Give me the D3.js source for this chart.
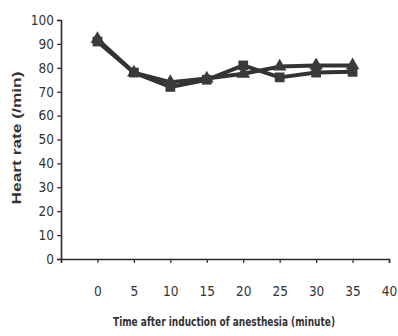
<!DOCTYPE html>
<html>
<head>
<meta charset="utf-8">
<script src="https://cdn.jsdelivr.net/npm/d3@7"></script>
<style>
  body { margin: 0; background: #fff; }
  svg { display: block; }
</style>
</head>
<body>
<svg id="chart" width="398" height="336"></svg>
<script>
// minutes after induction
const times = [0, 5, 10, 15, 20, 25, 30, 35];
// group with square markers
const squareSeries = [91, 78, 72, 75, 81, 76, 78, 78.3];
// group with triangle markers
const triangleSeries = [92, 78, 74, 75.5, 77.5, 80.5, 81, 81];
const yTicks = [0, 10, 20, 30, 40, 50, 60, 70, 80, 90, 100];
const xTicks = [0, 5, 10, 15, 20, 25, 30, 35, 40];

const svg = d3.select("#chart");
const font = "'DejaVu Sans Condensed', 'Liberation Sans Narrow', 'Liberation Sans', sans-serif";
const ink = "#2b2b2b";

const x = d3.scaleLinear().domain([-5, 40]).range([61, 389]);
const y = d3.scaleLinear().domain([0, 100]).range([259, 20]);

// y axis
const yAxis = svg.append("g")
  .attr("transform", "translate(61,0)")
  .call(d3.axisLeft(y).tickValues(yTicks).tickSize(4).tickPadding(3));
// x axis
const xAxis = svg.append("g")
  .attr("transform", "translate(0,259)")
  .call(d3.axisBottom(x).tickValues(xTicks).tickSize(4).tickPadding(23));

[yAxis, xAxis].forEach(ax => {
  ax.select(".domain").attr("stroke", ink).attr("stroke-width", 1.6);
  ax.selectAll(".tick line").attr("stroke", ink).attr("stroke-width", 1.2);
  ax.selectAll("text").attr("fill", "#333").style("font-family", font).style("font-size", "13.5px");
});

const line = d3.line()
  .x((d, i) => x(times[i]))
  .y(d => y(d));

const series = [
  {values: squareSeries, marker: d3.symbolSquare, size: 95},
  {values: triangleSeries, marker: d3.symbolTriangle, size: 80}
];

series.forEach(s => {
  svg.append("path")
    .datum(s.values)
    .attr("fill", "none")
    .attr("stroke", "#333")
    .attr("stroke-width", 4)
    .attr("stroke-linejoin", "round")
    .attr("d", line);
});

series.forEach(s => {
  svg.selectAll(null)
    .data(s.values)
    .join("path")
    .attr("transform", (d, i) => `translate(${x(times[i])},${y(d)})`)
    .attr("d", d3.symbol().type(s.marker).size(s.size))
    .attr("fill", "#3a3a3a");
});

// axis titles
svg.append("text")
  .attr("transform", "translate(21,138) rotate(-90)")
  .attr("text-anchor", "middle")
  .attr("textLength", 133)
  .attr("lengthAdjust", "spacingAndGlyphs")
  .style("font-family", "'Liberation Sans', Arial, sans-serif")
  .style("font-weight", "bold")
  .style("font-size", "12px")
  .attr("fill", "#333")
  .text("Heart rate (/min)");

svg.append("text")
  .attr("x", 224)
  .attr("y", 326)
  .attr("text-anchor", "middle")
  .attr("textLength", 222)
  .attr("lengthAdjust", "spacingAndGlyphs")
  .style("font-family", font)
  .style("font-weight", "bold")
  .style("font-size", "12.5px")
  .attr("fill", "#333")
  .text("Time after induction of anesthesia (minute)");
</script>
</body>
</html>
